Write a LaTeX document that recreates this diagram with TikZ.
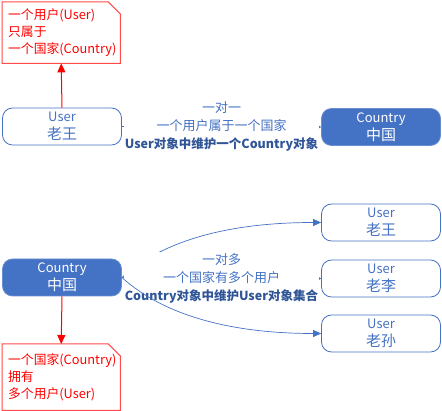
\documentclass[tikz,border=0pt]{standalone}
\usepackage{fontspec}
\setmainfont{Noto Sans CJK SC}
\usetikzlibrary{arrows.meta}
\definecolor{bfill}{HTML}{4472C4}
\definecolor{bline}{HTML}{4472C4}
\definecolor{btext}{HTML}{4472C4}
\definecolor{bdark}{HTML}{2F5597}
\definecolor{rline}{HTML}{FF4B4B}
\definecolor{rarrow}{HTML}{FF0000}
\begin{document}
\begin{tikzpicture}[x=1pt,y=-1pt,
  userbox/.style={draw=bline,line width=0.8pt,fill=white,rounded corners=10pt,minimum width=119pt,minimum height=37pt,inner sep=0pt,align=center,text=btext,font=\fontsize{13}{18}\selectfont},
  ctrybox/.style={draw=bline!80!white,line width=0.8pt,fill=bfill,rounded corners=10pt,minimum width=119pt,minimum height=37pt,inner sep=0pt,align=center,text=white,font=\fontsize{13}{18}\selectfont},
  notetext/.style={minimum width=118pt,minimum height=61pt,text width=106pt,inner xsep=6pt,inner ysep=0pt,align=left,text=rarrow,font=\fontsize{12.8}{17}\selectfont},
  noteline/.style={draw=rline,line width=1pt,fill=white},
  relline/.style={draw=bline,line width=0.7pt},
  lbl/.style={fill=white,inner sep=1pt,align=center,text=btext,font=\fontsize{13}{18}\selectfont},
  redarrow/.style={draw=rarrow,line width=1pt,-{Triangle[width=8pt,length=9pt]}},
  smalltip/.style={-{Triangle[width=5pt,length=4pt]}},
  bigtip/.style={-{Triangle[width=7pt,length=8pt]}},
  bartip/.style={{Straight Barb[width=6pt,length=4pt]}-}
]
\useasboundingbox (0,0) rectangle (442,411);
\newcommand{\twoline}[2]{#1\\{\fontsize{15}{18}\selectfont #2}}
\newcommand{\boldline}[1]{{\color{bdark}\fontsize{12.5}{18}\selectfont\bfseries #1}}
% ---------- notes ----------
\node[notetext,anchor=north west] (n0) at (2,2) {};
\node[notetext,anchor=north west,minimum height=66pt] (n1) at (2,344) {};
\path[noteline] (n0.south west) -- (n0.north west) -- ([xshift=-12pt]n0.north east) -- ([yshift=-12pt]n0.north east) -- (n0.south east) -- cycle;
\node[notetext,anchor=north west] (t0) at (2,2) {一个用户(User)\\只属于\\一个国家(Country)};
\path[noteline] (n1.south west) -- (n1.north west) -- ([xshift=-12pt]n1.north east) -- ([yshift=-12pt]n1.north east) -- (n1.south east) -- cycle;
\node[notetext,anchor=north west,minimum height=66pt] (t1) at (2,344) {一个国家(Country)\\拥有\\多个用户(User)};
% ---------- one-to-one ----------
\node[userbox] (u0) at (62,126.5) {\twoline{User}{老王}};
\node[ctrybox] (c0) at (381,127) {\twoline{Country}{中国}};
\draw[relline,smalltip] (u0.east) -- (c0.west)
  node[lbl,midway] {一对一\\一个用户属于一个国家\\\boldline{User对象中维护一个Country对象}};
\draw[redarrow] (u0.north) -- (n0.south);
% ---------- one-to-many ----------
\node[ctrybox] (c1) at (62,277.5) {\twoline{Country}{中国}};
\node[userbox] (u1) at (381,222.5) {\twoline{User}{老王}};
\node[userbox] (u2) at (381,278.5) {\twoline{User}{老李}};
\node[userbox] (u3) at (381,333.5) {\twoline{User}{老孙}};
\draw[relline,bartip,bigtip] (c1.east) .. controls +(42,-38) and +(-90,0) .. (u1.west);
\draw[relline,smalltip] (c1.east) -- (u2.west)
  node[lbl,midway] {一对多\\一个国家有多个用户\\\boldline{Country对象中维护User对象集合}};
\draw[relline,bartip,bigtip] (c1.east) .. controls +(42,38) and +(-90,0) .. (u3.west);
\draw[redarrow] (c1.south) -- (n1.north);
\end{tikzpicture}
\end{document}
